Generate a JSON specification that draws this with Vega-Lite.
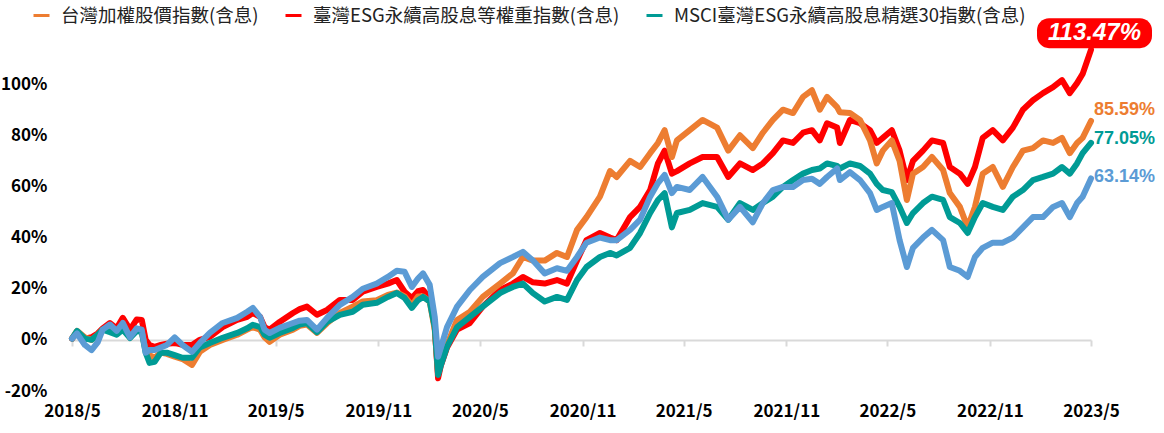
{
 "$schema": "https://vega.github.io/schema/vega-lite/v6.json",
 "width": 1019, "height": 358,
 "autosize": {"type": "none"},
 "padding": {"left": 72, "top": 33, "right": 73, "bottom": 42},
 "background": "white",
 "config": {"view": {"stroke": null}, "font": "Noto Sans CJK TC"},
 "data": {"values": [
  {"d":"2018-05-01","o":0.005,"r":0.005,"t":0.005,"b":0.005},
  {"d":"2018-05-10","o":0.035,"r":0.03,"t":0.035,"b":0.025},
  {"d":"2018-05-24","o":0.01,"r":0.005,"t":0.005,"b":-0.02},
  {"d":"2018-06-05","o":0,"r":0.01,"t":0,"b":-0.04},
  {"d":"2018-06-16","o":0.02,"r":0.025,"t":0.02,"b":-0.01},
  {"d":"2018-06-25","o":0.04,"r":0.045,"t":0.04,"b":0.04},
  {"d":"2018-07-08","o":0.04,"r":0.066,"t":0.03,"b":0.06},
  {"d":"2018-07-20","o":0.025,"r":0.045,"t":0.02,"b":0.035},
  {"d":"2018-07-31","o":0.045,"r":0.086,"t":0.04,"b":0.066},
  {"d":"2018-08-13","o":0.01,"r":0.04,"t":0.007,"b":0.01},
  {"d":"2018-08-25","o":0.04,"r":0.08,"t":0.035,"b":0.045},
  {"d":"2018-09-03","o":0.03,"r":0.078,"t":0.03,"b":0.04},
  {"d":"2018-09-10","o":-0.04,"r":0,"t":-0.05,"b":-0.05},
  {"d":"2018-09-17","o":-0.06,"r":-0.02,"t":-0.09,"b":-0.04},
  {"d":"2018-09-26","o":-0.07,"r":-0.027,"t":-0.086,"b":-0.04},
  {"d":"2018-10-07","o":-0.05,"r":-0.02,"t":-0.05,"b":-0.03},
  {"d":"2018-10-18","o":-0.055,"r":-0.015,"t":-0.05,"b":-0.02},
  {"d":"2018-11-01","o":-0.066,"r":-0.012,"t":-0.06,"b":0.01},
  {"d":"2018-11-15","o":-0.075,"r":-0.02,"t":-0.07,"b":-0.02},
  {"d":"2018-12-02","o":-0.098,"r":-0.02,"t":-0.07,"b":-0.047},
  {"d":"2018-12-16","o":-0.047,"r":0,"t":-0.03,"b":-0.012},
  {"d":"2019-01-03","o":-0.02,"r":0.012,"t":-0.012,"b":0.027},
  {"d":"2019-01-26","o":0,"r":0.05,"t":0.008,"b":0.066},
  {"d":"2019-02-21","o":0.02,"r":0.078,"t":0.027,"b":0.086},
  {"d":"2019-03-11","o":0.04,"r":0.09,"t":0.045,"b":0.11},
  {"d":"2019-03-21","o":0.05,"r":0.105,"t":0.059,"b":0.125},
  {"d":"2019-04-03","o":0.04,"r":0.09,"t":0.05,"b":0.09},
  {"d":"2019-04-11","o":0.01,"r":0.05,"t":0.02,"b":0.04},
  {"d":"2019-04-20","o":-0.008,"r":0.04,"t":0.008,"b":0.027},
  {"d":"2019-05-08","o":0.02,"r":0.07,"t":0.027,"b":0.047},
  {"d":"2019-06-01","o":0.04,"r":0.105,"t":0.047,"b":0.066},
  {"d":"2019-06-13","o":0.055,"r":0.12,"t":0.06,"b":0.075},
  {"d":"2019-06-26","o":0.06,"r":0.13,"t":0.066,"b":0.078},
  {"d":"2019-07-14","o":0.027,"r":0.098,"t":0.03,"b":0.04},
  {"d":"2019-08-01","o":0.065,"r":0.117,"t":0.07,"b":0.086},
  {"d":"2019-08-24","o":0.105,"r":0.156,"t":0.098,"b":0.137},
  {"d":"2019-09-16","o":0.13,"r":0.156,"t":0.11,"b":0.168},
  {"d":"2019-10-04","o":0.15,"r":0.188,"t":0.137,"b":0.2},
  {"d":"2019-10-29","o":0.155,"r":0.207,"t":0.145,"b":0.22},
  {"d":"2019-11-18","o":0.176,"r":0.22,"t":0.168,"b":0.246},
  {"d":"2019-12-04","o":0.185,"r":0.234,"t":0.183,"b":0.27},
  {"d":"2019-12-18","o":0.17,"r":0.188,"t":0.164,"b":0.266},
  {"d":"2019-12-31","o":0.135,"r":0.164,"t":0.125,"b":0.207},
  {"d":"2020-01-11","o":0.17,"r":0.19,"t":0.155,"b":0.24},
  {"d":"2020-01-20","o":0.17,"r":0.195,"t":0.168,"b":0.26},
  {"d":"2020-02-01","o":0.15,"r":0.164,"t":0.15,"b":0.215},
  {"d":"2020-02-10","o":0.04,"r":0.05,"t":0.05,"b":0.09},
  {"d":"2020-02-16","o":-0.13,"r":-0.15,"t":-0.137,"b":-0.066},
  {"d":"2020-02-21","o":-0.08,"r":-0.1,"t":-0.1,"b":-0.03},
  {"d":"2020-03-03","o":-0.02,"r":-0.03,"t":-0.027,"b":0.05},
  {"d":"2020-03-21","o":0.078,"r":0.04,"t":0.05,"b":0.13},
  {"d":"2020-04-13","o":0.11,"r":0.066,"t":0.09,"b":0.195},
  {"d":"2020-05-06","o":0.168,"r":0.13,"t":0.13,"b":0.246},
  {"d":"2020-06-06","o":0.22,"r":0.195,"t":0.183,"b":0.3},
  {"d":"2020-06-29","o":0.26,"r":0.22,"t":0.207,"b":0.324},
  {"d":"2020-07-17","o":0.324,"r":0.246,"t":0.22,"b":0.344},
  {"d":"2020-08-04","o":0.31,"r":0.225,"t":0.183,"b":0.31},
  {"d":"2020-08-25","o":0.31,"r":0.22,"t":0.15,"b":0.26},
  {"d":"2020-09-16","o":0.34,"r":0.234,"t":0.168,"b":0.28},
  {"d":"2020-10-04","o":0.324,"r":0.22,"t":0.156,"b":0.27},
  {"d":"2020-10-22","o":0.43,"r":0.31,"t":0.234,"b":0.324},
  {"d":"2020-11-08","o":0.48,"r":0.39,"t":0.285,"b":0.38},
  {"d":"2020-12-02","o":0.56,"r":0.418,"t":0.324,"b":0.4},
  {"d":"2020-12-20","o":0.66,"r":0.4,"t":0.34,"b":0.39},
  {"d":"2021-01-01","o":0.637,"r":0.39,"t":0.33,"b":0.39},
  {"d":"2021-01-25","o":0.7,"r":0.48,"t":0.36,"b":0.43},
  {"d":"2021-02-12","o":0.676,"r":0.52,"t":0.418,"b":0.47},
  {"d":"2021-03-02","o":0.73,"r":0.586,"t":0.496,"b":0.56},
  {"d":"2021-03-16","o":0.77,"r":0.69,"t":0.547,"b":0.613},
  {"d":"2021-03-28","o":0.82,"r":0.74,"t":0.574,"b":0.645},
  {"d":"2021-04-10","o":0.715,"r":0.65,"t":0.44,"b":0.574},
  {"d":"2021-04-19","o":0.78,"r":0.66,"t":0.496,"b":0.598},
  {"d":"2021-05-12","o":0.82,"r":0.69,"t":0.508,"b":0.586},
  {"d":"2021-06-04","o":0.86,"r":0.715,"t":0.535,"b":0.637},
  {"d":"2021-06-30","o":0.83,"r":0.715,"t":0.52,"b":0.56},
  {"d":"2021-07-20","o":0.74,"r":0.637,"t":0.47,"b":0.47},
  {"d":"2021-08-10","o":0.8,"r":0.69,"t":0.535,"b":0.52},
  {"d":"2021-09-02","o":0.75,"r":0.664,"t":0.508,"b":0.46},
  {"d":"2021-09-20","o":0.81,"r":0.69,"t":0.535,"b":0.535},
  {"d":"2021-10-08","o":0.86,"r":0.73,"t":0.56,"b":0.586},
  {"d":"2021-10-26","o":0.9,"r":0.78,"t":0.598,"b":0.598},
  {"d":"2021-11-13","o":0.887,"r":0.77,"t":0.625,"b":0.598},
  {"d":"2021-12-01","o":0.95,"r":0.81,"t":0.65,"b":0.625},
  {"d":"2021-12-17","o":0.976,"r":0.82,"t":0.664,"b":0.63},
  {"d":"2021-12-31","o":0.9,"r":0.78,"t":0.67,"b":0.61},
  {"d":"2022-01-13","o":0.95,"r":0.847,"t":0.69,"b":0.637},
  {"d":"2022-01-31","o":0.91,"r":0.83,"t":0.68,"b":0.67},
  {"d":"2022-02-05","o":0.89,"r":0.77,"t":0.67,"b":0.625},
  {"d":"2022-02-23","o":0.887,"r":0.86,"t":0.69,"b":0.656},
  {"d":"2022-03-13","o":0.86,"r":0.847,"t":0.68,"b":0.625},
  {"d":"2022-03-31","o":0.78,"r":0.82,"t":0.65,"b":0.574},
  {"d":"2022-04-12","o":0.69,"r":0.77,"t":0.61,"b":0.508},
  {"d":"2022-04-23","o":0.74,"r":0.79,"t":0.586,"b":0.52},
  {"d":"2022-05-09","o":0.78,"r":0.82,"t":0.578,"b":0.535},
  {"d":"2022-05-23","o":0.7,"r":0.74,"t":0.52,"b":0.39},
  {"d":"2022-06-05","o":0.547,"r":0.625,"t":0.457,"b":0.285},
  {"d":"2022-06-16","o":0.65,"r":0.7,"t":0.496,"b":0.36},
  {"d":"2022-07-04","o":0.676,"r":0.74,"t":0.535,"b":0.4},
  {"d":"2022-07-20","o":0.715,"r":0.78,"t":0.56,"b":0.43},
  {"d":"2022-08-09","o":0.664,"r":0.77,"t":0.547,"b":0.39},
  {"d":"2022-08-21","o":0.574,"r":0.676,"t":0.48,"b":0.285},
  {"d":"2022-09-08","o":0.52,"r":0.65,"t":0.457,"b":0.27},
  {"d":"2022-09-22","o":0.44,"r":0.61,"t":0.418,"b":0.246},
  {"d":"2022-10-05","o":0.52,"r":0.676,"t":0.48,"b":0.324},
  {"d":"2022-10-19","o":0.65,"r":0.79,"t":0.535,"b":0.36},
  {"d":"2022-11-06","o":0.676,"r":0.82,"t":0.52,"b":0.38},
  {"d":"2022-11-24","o":0.598,"r":0.78,"t":0.508,"b":0.38},
  {"d":"2022-12-12","o":0.676,"r":0.83,"t":0.56,"b":0.4},
  {"d":"2022-12-30","o":0.74,"r":0.9,"t":0.586,"b":0.44},
  {"d":"2023-01-17","o":0.75,"r":0.937,"t":0.625,"b":0.48},
  {"d":"2023-02-04","o":0.78,"r":0.965,"t":0.637,"b":0.48},
  {"d":"2023-02-22","o":0.77,"r":0.988,"t":0.65,"b":0.52},
  {"d":"2023-03-10","o":0.79,"r":1.016,"t":0.676,"b":0.535},
  {"d":"2023-03-24","o":0.73,"r":0.965,"t":0.65,"b":0.48},
  {"d":"2023-04-06","o":0.77,"r":1.004,"t":0.69,"b":0.535},
  {"d":"2023-04-16","o":0.79,"r":1.04,"t":0.73,"b":0.56},
  {"d":"2023-05-01","o":0.8559,"r":1.1347,"t":0.7705,"b":0.6314}
 ]},
 "transform": [{"fold": ["r", "o", "t", "b"], "as": ["s", "v"]}],
 "encoding": {
  "x": {"field": "d", "type": "temporal",
   "scale": {"type": "utc", "domain": [{"year": 2018, "month": 5, "date": 1, "utc": true}, {"year": 2023, "month": 5, "date": 1, "utc": true}]},
   "axis": {
    "values": [
     {"year": 2018, "month": 5, "date": 1, "utc": true},
     {"year": 2018, "month": 11, "date": 1, "utc": true},
     {"year": 2019, "month": 5, "date": 1, "utc": true},
     {"year": 2019, "month": 11, "date": 1, "utc": true},
     {"year": 2020, "month": 5, "date": 1, "utc": true},
     {"year": 2020, "month": 11, "date": 1, "utc": true},
     {"year": 2021, "month": 5, "date": 1, "utc": true},
     {"year": 2021, "month": 11, "date": 1, "utc": true},
     {"year": 2022, "month": 5, "date": 1, "utc": true},
     {"year": 2022, "month": 11, "date": 1, "utc": true},
     {"year": 2023, "month": 5, "date": 1, "utc": true}
    ],
    "format": "%Y/%-m", "offset": -51, "title": null, "grid": false,
    "domainColor": "#d9d9d9", "domainWidth": 2, "tickColor": "#d9d9d9", "tickWidth": 2, "tickSize": 6,
    "labelPadding": 57, "labelFontSize": 17, "labelFontWeight": "bold", "labelColor": "#000000",
    "labelFlush": false, "labelOverlap": false
   }},
  "y": {"field": "v", "type": "quantitative",
   "scale": {"domain": [-0.2, 1.2], "nice": false, "zero": false},
   "axis": {"values": [-0.2, 0, 0.2, 0.4, 0.6, 0.8, 1.0], "labelExpr": "round(datum.value*100)+'%'",
    "domain": false, "ticks": false, "grid": false, "title": null, "labelPadding": 25,
    "labelFontSize": 17, "labelFontWeight": "bold", "labelColor": "#000000"}}
 },
 "layer": [
  {"mark": {"type": "line", "strokeWidth": 6, "strokeJoin": "round", "strokeCap": "round"},
   "encoding": {
    "color": {"field": "s", "type": "nominal",
     "scale": {"domain": ["o", "r", "t", "b"], "range": ["#ED7D31", "#FF0000", "#009B95", "#5B9BD5"]},
     "legend": {"values": ["o", "r", "t"], "orient": "none", "legendX": -40, "legendY": -27, "direction": "horizontal",
      "title": null, "symbolType": "stroke", "symbolStrokeWidth": 3, "symbolSize": 256, "labelFontSize": 18.5,
      "labelColor": "#222222", "columnPadding": 20, "labelOffset": 10, "labelLimit": 0,
      "labelExpr": "datum.value=='o'?'台灣加權股價指數(含息)':datum.value=='r'?'臺灣ESG永續高股息等權重指數(含息)':'MSCI臺灣ESG永續高股息精選30指數(含息)'"}}
   }},
  {"transform": [{"filter": "datum.s=='o' && datum.v==0.8559"}],
   "mark": {"type": "text", "align": "left", "baseline": "middle", "dx": 3, "dy": -11, "font": "Liberation Sans", "fontWeight": "bold", "fontSize": 18, "color": "#ED7D31"},
   "encoding": {"text": {"field": "v", "type": "quantitative", "format": ".2%"}}},
  {"transform": [{"filter": "datum.s=='t' && datum.v==0.7705"}],
   "mark": {"type": "text", "align": "left", "baseline": "middle", "dx": 3, "dy": -4, "font": "Liberation Sans", "fontWeight": "bold", "fontSize": 18, "color": "#009B95"},
   "encoding": {"text": {"field": "v", "type": "quantitative", "format": ".2%"}}},
  {"transform": [{"filter": "datum.s=='b' && datum.v==0.6314"}],
   "mark": {"type": "text", "align": "left", "baseline": "middle", "dx": 3, "dy": -1, "font": "Liberation Sans", "fontWeight": "bold", "fontSize": 18, "color": "#5B9BD5"},
   "encoding": {"text": {"field": "v", "type": "quantitative", "format": ".2%"}}},
  {"transform": [{"filter": "datum.s=='r' && datum.v>1.1"}],
   "mark": {"type": "point", "filled": true, "fill": "#FF0000", "opacity": 1, "strokeWidth": 0, "size": 13225, "xOffset": 3.5, "yOffset": -16.5,
    "shape": "M -0.79 -0.26 L 0.79 -0.26 A 0.21 0.21 0 0 1 1 -0.05 L 1 0.05 A 0.21 0.21 0 0 1 0.79 0.26 L -0.79 0.26 A 0.21 0.21 0 0 1 -1 0.05 L -1 -0.05 A 0.21 0.21 0 0 1 -0.79 -0.26 Z"}},
  {"transform": [{"filter": "datum.s=='r' && datum.v>1.1"}],
   "mark": {"type": "text", "align": "center", "baseline": "middle", "xOffset": 3.5, "yOffset": -16.5, "font": "Liberation Sans", "fontStyle": "italic", "fontWeight": "bold", "fontSize": 24, "color": "#FFFFFF"},
   "encoding": {"text": {"field": "v", "type": "quantitative", "format": ".2%"}}}
 ]
}
